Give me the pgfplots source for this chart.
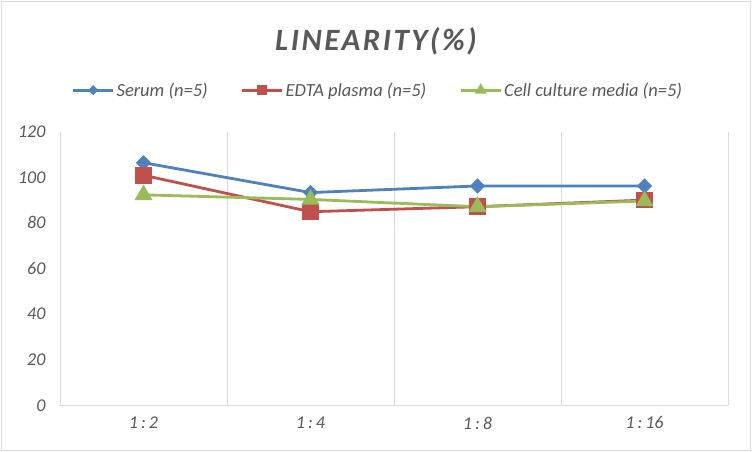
\documentclass[border=0pt]{standalone}
\usepackage{pgfplots}
\pgfplotsset{compat=1.18}
\usepackage{fontspec}
\setmainfont{Carlito}
\definecolor{serum}{HTML}{4F81BD}
\definecolor{edta}{HTML}{C0504D}
\definecolor{cell}{HTML}{9BBB59}
\definecolor{txt}{HTML}{595959}
\definecolor{grd}{HTML}{D9D9D9}
\begin{document}
\begin{tikzpicture}[x=1pt,y=1pt]
\path[use as bounding box] (0,0) rectangle (752,452);
\fill[white] (0,0) rectangle (752,452);
\draw[grd, line width=1.5pt] (1.5,1.5) rectangle (750.5,450.5);
\node[text=txt, font=\fontsize{31}{36}\selectfont\bfseries\itshape\addfontfeature{LetterSpace=8}] at (376,411) {LINEARITY(\%)};
\begin{axis}[
  at={(60pt,46.7pt)}, anchor=south west,
  scale only axis, width=668pt, height=273.6pt,
  xmin=-0.5, xmax=3.5, ymin=0, ymax=120,
  xtick={0,1,2,3},
  xticklabels={1\,:\,2, 1\,:\,4, 1\,:\,8, 1\,:\,16},
  ytick={0,20,...,120},
  minor xtick={-0.5,0.5,1.5,2.5,3.5},
  xminorgrids,
  minor grid style={grd, line width=1pt},
  extra y ticks={0}, extra y tick labels={},
  extra y tick style={ymajorgrids=true, major grid style={grd, line width=1pt}},
  axis line style={draw=none},
  major tick length=0pt, minor tick length=0pt,
  tick label style={text=txt, font=\fontsize{18}{21}\selectfont\itshape},
  /pgf/number format/assume math mode=true,
  yticklabel style={xshift=-11pt},
  xticklabel style={yshift=-8pt},
  legend columns=3,
  legend style={at={(0.476,1.152)}, anchor=center, draw=none, fill=none,
    font=\fontsize{18.5}{21}\selectfont\itshape, text=txt,
    /tikz/every even column/.append style={column sep=31pt}},
  legend image code/.code={\draw[mark repeat=2,mark phase=2,#1,/tikz/every mark/.append style={scale=0.55}] plot coordinates {(0pt,0pt) (20pt,0pt) (40pt,0pt)};},
]
\addplot[serum, line width=2.8pt, mark=square*, mark size=4pt, mark options={rotate=45, solid}]
  coordinates {(0,106.4) (1,93.3) (2,96.2) (3,96.2)};
\addlegendentry{Serum (n=5)}
\addplot[edta, line width=2.8pt, mark=square*, mark size=7pt, mark options={solid}]
  coordinates {(0,100.9) (1,84.9) (2,87.1) (3,90)};
\addlegendentry{EDTA plasma (n=5)}
\addplot[cell, line width=2.8pt, mark=triangle*, mark size=7.5pt, mark options={solid}]
  coordinates {(0,92.3) (1,90.3) (2,87.1) (3,89.6)};
\addlegendentry{Cell culture media (n=5)}
\end{axis}
\end{tikzpicture}
\end{document}
